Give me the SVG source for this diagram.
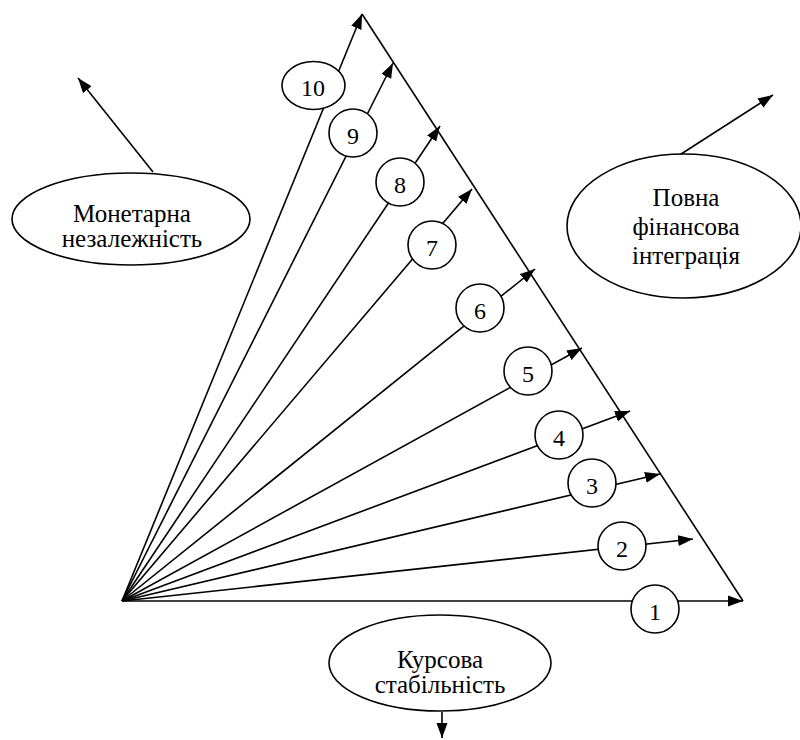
<svg xmlns="http://www.w3.org/2000/svg" width="800" height="740" viewBox="0 0 800 740">
<defs>
<marker id="ah" markerUnits="userSpaceOnUse" markerWidth="16" markerHeight="12" refX="15" refY="6" orient="auto">
<path d="M0,0.5 L15,6 L0,11.5 z" fill="#000"/>
</marker>
<style>
.ln{stroke:#000;stroke-width:1.6;fill:none}
.ar{stroke:#000;stroke-width:1.6;fill:none;marker-end:url(#ah)}
.nd{fill:#fff;stroke:#000;stroke-width:1.6}
.lb{font-family:"Liberation Serif","Times New Roman",serif;font-size:25px;fill:#000;text-anchor:middle}
.num{font-family:"Liberation Serif","Times New Roman",serif;font-size:24px;fill:#000;text-anchor:middle}
</style>
</defs>
<rect width="800" height="740" fill="#fff"/>
<g id="connectors">
<line class="ln" x1="362" y1="14" x2="743" y2="601"/>
<line class="ar" x1="122" y1="601" x2="743" y2="601"/>
<line class="ar" x1="122" y1="601" x2="693" y2="539"/>
<line class="ar" x1="122" y1="601" x2="660" y2="474"/>
<line class="ar" x1="122" y1="601" x2="630" y2="411"/>
<line class="ar" x1="122" y1="601" x2="582" y2="348"/>
<line class="ar" x1="122" y1="601" x2="535" y2="269"/>
<line class="ar" x1="122" y1="601" x2="472" y2="189"/>
<line class="ar" x1="122" y1="601" x2="440" y2="126"/>
<line class="ar" x1="122" y1="601" x2="393" y2="63"/>
<line class="ar" x1="122" y1="601" x2="362" y2="14"/>
<line class="ar" x1="153" y1="172" x2="78" y2="78"/>
<line class="ar" x1="678" y1="156" x2="773" y2="95"/>
<line class="ar" x1="442" y1="712" x2="442" y2="738"/>
</g>
<g id="n1"><circle class="nd" cx="655" cy="609" r="24"/><text class="num" x="655" y="620">1</text></g>
<g id="n2"><circle class="nd" cx="622" cy="546" r="24"/><text class="num" x="622" y="557">2</text></g>
<g id="n3"><circle class="nd" cx="592" cy="483" r="24"/><text class="num" x="592" y="494">3</text></g>
<g id="n4"><circle class="nd" cx="559" cy="435" r="24"/><text class="num" x="559" y="446">4</text></g>
<g id="n5"><circle class="nd" cx="528" cy="371" r="24"/><text class="num" x="528" y="382">5</text></g>
<g id="n6"><circle class="nd" cx="480" cy="308" r="24"/><text class="num" x="480" y="319">6</text></g>
<g id="n7"><circle class="nd" cx="432" cy="245" r="24"/><text class="num" x="432" y="256">7</text></g>
<g id="n8"><circle class="nd" cx="400" cy="182" r="24"/><text class="num" x="400" y="193">8</text></g>
<g id="n9"><circle class="nd" cx="353" cy="133" r="24"/><text class="num" x="353" y="144">9</text></g>
<g id="n10"><ellipse class="nd" cx="313.5" cy="85.5" rx="31.5" ry="24"/><text class="num" x="313" y="96">10</text></g>
<g id="monetary"><ellipse class="nd" cx="131" cy="219" rx="119" ry="46"/><text class="lb" x="132" y="222">Монетарна</text><text class="lb" x="132" y="247">незалежність</text></g>
<g id="financial"><ellipse class="nd" cx="684" cy="226" rx="117" ry="72"/><text class="lb" x="686" y="206">Повна</text><text class="lb" x="686" y="235">фінансова</text><text class="lb" x="686" y="264">інтеграція</text></g>
<g id="exchange"><ellipse class="nd" cx="440" cy="663" rx="111" ry="48"/><text class="lb" x="440" y="668">Курсова</text><text class="lb" x="440" y="693">стабільність</text></g>
</svg>
